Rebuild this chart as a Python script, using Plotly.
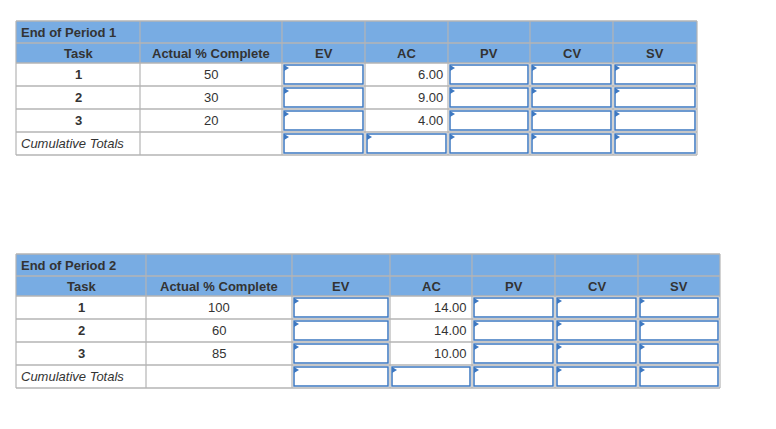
import plotly.graph_objects as go

columns = ["Task", "Actual % Complete", "EV", "AC", "PV", "CV", "SV"]
tasks = ["1", "2", "3"]
p1_title = "End of Period 1"
p1_complete = [50, 30, 20]
p1_ac = [6.00, 9.00, 4.00]
p2_title = "End of Period 2"
p2_complete = [100, 60, 85]
p2_ac = [14.00, 14.00, 10.00]
totals_label = "Cumulative Totals"

HDR = "#78ace3"
GRID = "#b4b4b4"
BLUE = "#3d78c1"
FONT = "Liberation Sans, Arial, sans-serif"
FS = 13

fig = go.Figure()
shapes, anns = [], []

def table(xb, top, title, complete, ac):
    rh = [22, 20, 23, 23, 23, 23]
    yb = [top]
    for h in rh:
        yb.append(yb[-1] + h)
    shapes.append(dict(type="rect", x0=xb[0], x1=xb[-1], y0=yb[0], y1=yb[2],
                       fillcolor=HDR, line=dict(width=0)))
    for y in yb:
        shapes.append(dict(type="line", x0=xb[0], x1=xb[-1], y0=y, y1=y,
                           line=dict(color=GRID, width=1.5)))
    for x in xb:
        shapes.append(dict(type="line", x0=x, x1=x, y0=yb[0], y1=yb[-1],
                           line=dict(color=GRID, width=1.2)))
    anns.append(dict(x=xb[0] + 3, y=(yb[0] + yb[1]) / 2, text="<b>" + title + "</b>",
                     xanchor="left", font=dict(size=FS, color="#333")))
    for i, c in enumerate(columns):
        anns.append(dict(x=(xb[i] + xb[i + 1]) / 2, y=(yb[1] + yb[2]) / 2,
                         text="<b>" + c + "</b>", font=dict(size=FS, color="#333")))
    def box(i, r):
        x0, x1, y0, y1 = xb[i] + 2, xb[i + 1] - 2, yb[r] + 2, yb[r + 1] - 2
        shapes.append(dict(type="rect", x0=x0, x1=x1, y0=y0, y1=y1,
                           fillcolor="white", line=dict(color=BLUE, width=1.5)))
        shapes.append(dict(type="path", path=f"M{x0},{y0} L{x0+5},{y0+3} L{x0},{y0+6} Z",
                           fillcolor=BLUE, line=dict(width=0)))
    for r in range(3):
        row = r + 2
        yc = (yb[row] + yb[row + 1]) / 2
        anns.append(dict(x=(xb[0] + xb[1]) / 2, y=yc, text="<b>" + tasks[r] + "</b>",
                         font=dict(size=FS, color="#333")))
        anns.append(dict(x=(xb[1] + xb[2]) / 2, y=yc, text=str(complete[r]),
                         font=dict(size=FS, color="#333")))
        anns.append(dict(x=xb[4] - 3, y=yc, text=f"{ac[r]:.2f}", xanchor="right",
                         font=dict(size=FS, color="#333")))
        for i in (2, 4, 5, 6):
            box(i, row)
    yc = (yb[5] + yb[6]) / 2
    anns.append(dict(x=xb[0] + 3, y=yc, text="<i>" + totals_label + "</i>",
                     xanchor="left", font=dict(size=FS, color="#333")))
    for i in range(2, 7):
        box(i, 5)

table([16, 140, 282, 365, 448, 530, 613, 697], 21, p1_title, p1_complete, p1_ac)
table([16, 146, 292, 390, 472, 555, 638, 720], 254, p2_title, p2_complete, p2_ac)

for a in anns:
    a.update(showarrow=False, xref="x", yref="y", yanchor="middle")
    a["font"]["family"] = FONT
for s in shapes:
    s.update(xref="x", yref="y")

# page body has an 8px margin; shift the axis window to compensate
fig.update_layout(width=776, height=429, margin=dict(l=0, r=0, t=0, b=0),
                  paper_bgcolor="white", plot_bgcolor="white",
                  shapes=shapes, annotations=anns,
                  xaxis=dict(range=[8, 784], visible=False, fixedrange=True),
                  yaxis=dict(range=[437, 8], visible=False, fixedrange=True))
fig.write_html("out.html", config={"displayModeBar": False})
